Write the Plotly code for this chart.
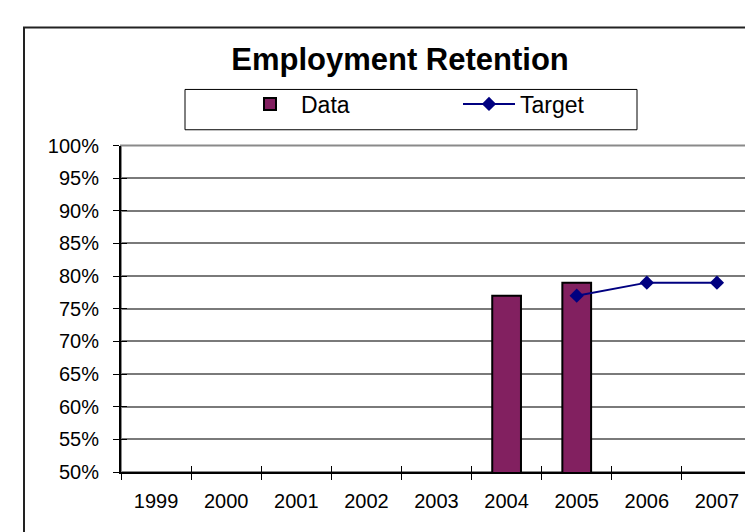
import plotly.graph_objects as go

years = ["1999", "2000", "2001", "2002", "2003", "2004", "2005", "2006", "2007"]
data_years = ["2004", "2005"]
data_values = [0.77, 0.79]
target_years = ["2005", "2006", "2007"]
target_values = [0.77, 0.79, 0.79]

FONT = "Arial, 'Liberation Sans', sans-serif"
W, H = 753, 532
L, R, T, B = 113, 9, 132, 68
plot_w = W - L - R
plot_h = H - T - B


def px_x(x):
    return (x - L) / plot_w


def px_y(y):
    return (H - B - y) / plot_h


fig = go.Figure()
fig.add_trace(go.Bar(
    x=data_years, y=data_values, name="Data",
    marker=dict(color="#822060", line=dict(color="#000000", width=2)),
    width=0.41,
))
fig.add_trace(go.Scatter(
    x=target_years, y=target_values, name="Target", mode="lines+markers",
    line=dict(color="#000080", width=2),
    marker=dict(symbol="diamond", size=11, color="#000080"),
))
# invisible trace to carry the inner half of the crossing tick marks
fig.add_trace(go.Scatter(
    x=years, y=[None] * len(years), xaxis="x2", yaxis="y2",
    showlegend=False, hoverinfo="skip", mode="lines",
))

fig.update_layout(
    width=W, height=H,
    margin=dict(l=L, r=R, t=T, b=B),
    paper_bgcolor="white", plot_bgcolor="white",
    font=dict(family=FONT, color="#000000", size=20),
    title=dict(
        text="<b>Employment Retention</b>",
        font=dict(family=FONT, size=31, color="#000000"),
        x=392 / W, xanchor="center", xref="container",
        y=1 - 51 / H, yanchor="middle", yref="container",
    ),
    showlegend=True,
    legend=dict(
        orientation="h",
        xref="container", yref="container",
        x=231 / W, xanchor="left",
        y=1 - 96 / H, yanchor="middle",
        borderwidth=0,
        bgcolor="rgba(0,0,0,0)",
        font=dict(family=FONT, size=23, color="#000000"),
        entrywidth=152, itemwidth=52,
        traceorder="normal",
    ),
    bargap=0.59,
    xaxis=dict(
        type="category", categoryorder="array", categoryarray=years,
        range=[-0.5, 8.5],
        showline=True, linecolor="#000000", linewidth=2,
        ticks="outside", ticklen=6, tickwidth=1, tickcolor="#000000",
        tickson="boundaries",
        showgrid=False, zeroline=False,
        tickfont=dict(family=FONT, size=20, color="#000000"),
        ticklabelstandoff=10,
    ),
    yaxis=dict(
        range=[0.5, 1.0], dtick=0.05, tick0=0.5, tickformat=".0%",
        showline=True, linecolor="#000000", linewidth=2,
        ticks="outside", ticklen=6, tickwidth=1, tickcolor="#000000",
        showgrid=True, gridcolor="#7a7a7a", gridwidth=1.5,
        zeroline=False,
        tickfont=dict(family=FONT, size=20, color="#000000"),
        ticklabelstandoff=10,
    ),
    xaxis2=dict(
        type="category", categoryorder="array", categoryarray=years,
        overlaying="x", matches="x", range=[-0.5, 8.5],
        ticks="inside", ticklen=6, tickwidth=1, tickcolor="#000000",
        tickson="boundaries", showticklabels=False,
        showgrid=False, zeroline=False, showline=False,
    ),
    yaxis2=dict(
        overlaying="y", range=[0.5, 1.0], dtick=0.05, tick0=0.5,
        ticks="inside", ticklen=6, tickwidth=1, tickcolor="#000000",
        showticklabels=False, showgrid=False, zeroline=False, showline=False,
    ),
    shapes=[
        # plot area border (grey)
        dict(type="rect", xref="paper", yref="paper", x0=0, x1=1, y0=0, y1=1,
             line=dict(color="#8a8a8a", width=2), layer="below"),
        # chart area border (extends past the right and bottom edges)
        dict(type="rect", xref="paper", yref="paper",
             x0=px_x(16), x1=1.2, y0=-0.5, y1=px_y(12),
             line=dict(color="#222222", width=2), layer="below"),
        # legend frame
        dict(type="rect", xref="paper", yref="paper",
             x0=px_x(177), x1=px_x(629), y0=px_y(116), y1=px_y(75),
             line=dict(color="#000000", width=1), fillcolor="rgba(0,0,0,0)",
             layer="below"),
    ],
)

fig.write_html("out.html")
